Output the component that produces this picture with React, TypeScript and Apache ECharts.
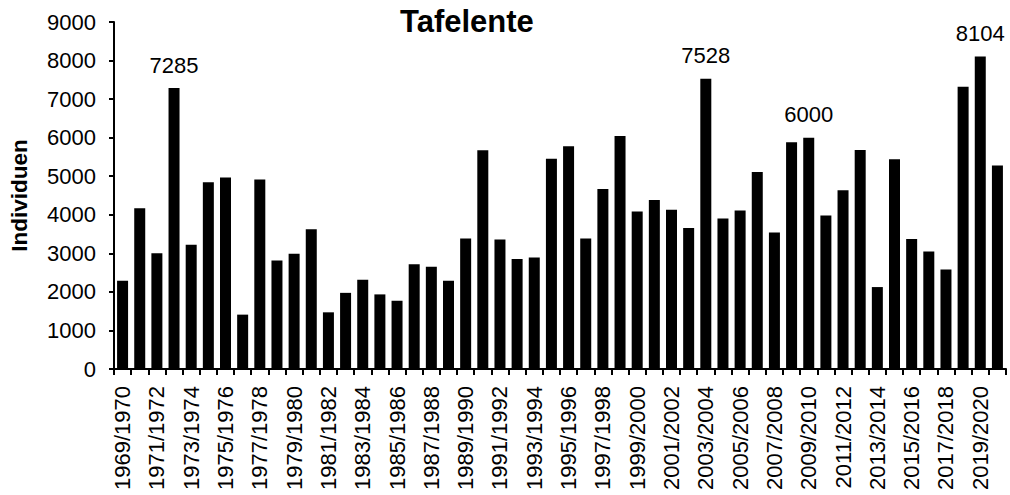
import React, { useEffect, useRef } from "react";
import * as echarts from "echarts";

const seasons: string[] = [
  "1969/1970", "1970/1971", "1971/1972", "1972/1973", "1973/1974", "1974/1975",
  "1975/1976", "1976/1977", "1977/1978", "1978/1979", "1979/1980", "1980/1981",
  "1981/1982", "1982/1983", "1983/1984", "1984/1985", "1985/1986", "1986/1987",
  "1987/1988", "1988/1989", "1989/1990", "1990/1991", "1991/1992", "1992/1993",
  "1993/1994", "1994/1995", "1995/1996", "1996/1997", "1997/1998", "1998/1999",
  "1999/2000", "2000/2001", "2001/2002", "2002/2003", "2003/2004", "2004/2005",
  "2005/2006", "2006/2007", "2007/2008", "2008/2009", "2009/2010", "2010/2011",
  "2011/2012", "2012/2013", "2013/2014", "2014/2015", "2015/2016", "2016/2017",
  "2017/2018", "2018/2019", "2019/2020", "2020/2021",
];

const individuen: number[] = [
  2290, 4170, 3000, 7285, 3220, 4845,
  4965, 1410, 4915, 2815, 2990, 3625,
  1470, 1975, 2315, 1935, 1770, 2720,
  2650, 2290, 3385, 5675, 3360, 2850,
  2895, 5450, 5775, 3385, 4670, 6045,
  4085, 4385, 4130, 3660, 7528, 3905,
  4110, 5110, 3540, 5880, 6000, 3980,
  4635, 5680, 2125, 5440, 3370, 3050,
  2580, 7320, 8104, 5275,
];

const labeledSeasons: string[] = ["1972/1973", "2003/2004", "2009/2010", "2019/2020"];

const yTicks: number[] = [0, 1000, 2000, 3000, 4000, 5000, 6000, 7000, 8000, 9000];

const FONT = "'Liberation Sans', Arial, Helvetica, sans-serif";

export default function App() {
  const ref = useRef<HTMLDivElement>(null);

  useEffect(() => {
    if (!ref.current) return;
    const chart = echarts.init(ref.current, null, { renderer: "svg" });
    const data = individuen.map((v, i) => ({
      value: v,
      label: { show: labeledSeasons.includes(seasons[i]) },
    }));
    chart.setOption({
      animation: false,
      backgroundColor: "#ffffff",
      title: {
        text: "Tafelente",
        left: 395,
        top: 1,
        textStyle: {
          fontFamily: FONT,
          fontSize: 31,
          fontWeight: "bold",
          color: "#000",
        },
      },
      grid: {
        left: 110,
        right: 4,
        top: 22,
        bottom: 126,
        containLabel: false,
      },
      xAxis: {
        type: "category",
        data: seasons,
        boundaryGap: true,
        axisLine: { show: true, lineStyle: { color: "#000", width: 2 } },
        axisTick: {
          show: true,
          interval: 0,
          alignWithLabel: false,
          length: 6,
          lineStyle: { color: "#000", width: 2 },
        },
        axisLabel: {
          interval: 1,
          rotate: 90,
          margin: 17,
          fontFamily: FONT,
          fontSize: 22,
          color: "#000",
        },
        splitLine: { show: false },
      },
      yAxis: {
        type: "value",
        min: yTicks[0],
        max: yTicks[yTicks.length - 1],
        interval: 1000,
        name: "Individuen",
        nameLocation: "middle",
        nameRotate: 90,
        nameGap: 83,
        nameTextStyle: {
          fontFamily: FONT,
          fontSize: 22.5,
          fontWeight: "bold",
          color: "#000",
        },
        axisLine: { show: true, lineStyle: { color: "#000", width: 2 } },
        axisTick: { show: true, length: 5, lineStyle: { color: "#000", width: 2 } },
        axisLabel: {
          margin: 18,
          fontFamily: FONT,
          fontSize: 22,
          color: "#000",
          formatter: (v: number) => String(v),
        },
        splitLine: { show: false },
      },
      series: [
        {
          type: "bar",
          data,
          barWidth: 11,
          itemStyle: { color: "#000" },
          label: {
            position: "top",
            distance: 12,
            fontFamily: FONT,
            fontSize: 22,
            color: "#000",
          },
        },
      ],
    });
    return () => chart.dispose();
  }, []);

  return (
    <div
      ref={ref}
      style={{ position: "fixed", left: 0, top: 0, width: 1010, height: 495, background: "#fff" }}
    />
  );
}
